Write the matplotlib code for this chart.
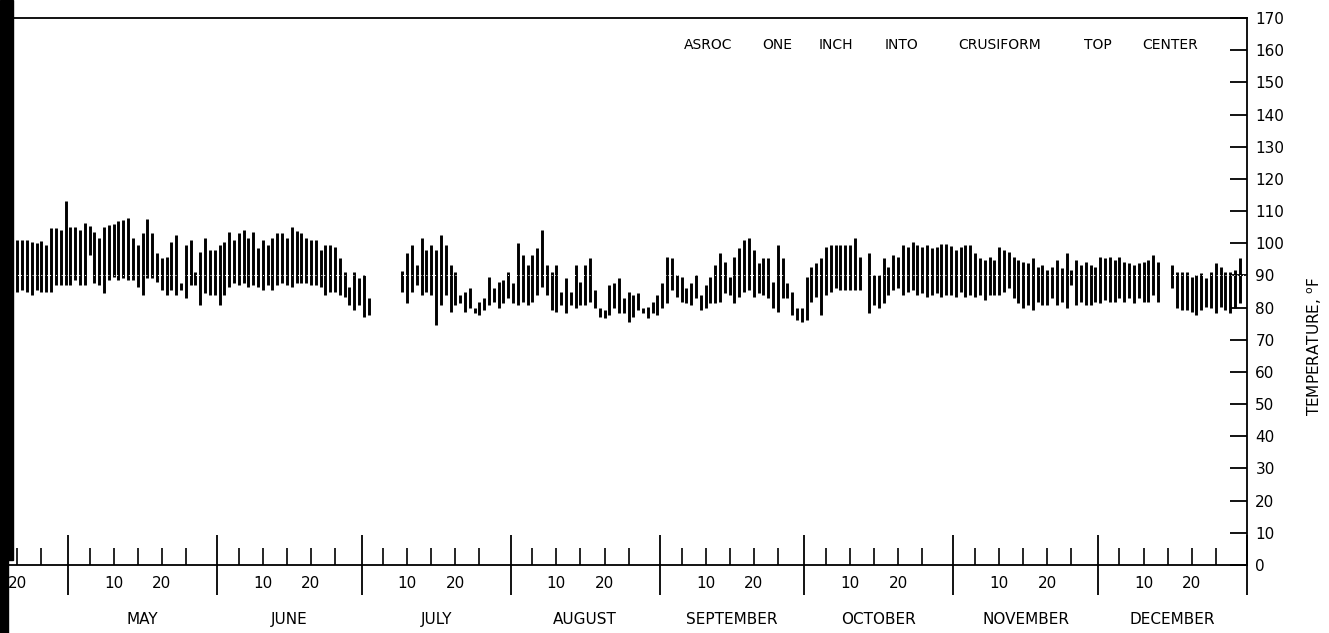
import numpy as np
import matplotlib.pyplot as plt
from matplotlib.patches import Rectangle

# daily max / min temperature (deg F), day 0 = May 1
seg1_start = -11   # April 20
seg1_hi = [101.0, 101.0, 101.0, 100.5, 100.0, 100.8, 99.5, 104.6, 104.6, 104.1,
           113.1, 105.2, 105.2, 104.1, 106.2, 105.5, 103.6, 101.5, 105.0, 105.7,
           106.0, 106.9, 107.2, 107.7, 101.5, 99.5, 103.1, 107.5, 103.1, 96.9,
           95.3, 95.8, 100.5, 102.6, 87.5, 99.5, 101.0, 91.2, 97.4, 101.7,
           97.9, 97.9, 99.5, 100.5, 103.6, 101.0, 103.1, 104.1, 101.5, 103.6,
           98.4, 101.0, 99.5, 101.5, 103.1, 103.1, 101.5, 105.0, 103.8, 103.1,
           101.5, 101.0, 101.0, 97.9, 99.5, 99.5, 98.9, 95.3, 91.2, 86.5,
           91.2, 89.1, 90.1, 82.9]
seg1_lo = [85.0, 85.5, 85.0, 83.9, 85.5, 85.0, 85.0, 85.0, 87.0, 87.0,
           87.0, 87.0, 88.6, 87.0, 87.0, 96.4, 87.5, 87.0, 84.4, 88.6,
           89.6, 88.6, 89.1, 88.6, 88.6, 86.5, 83.9, 89.1, 89.1, 88.1,
           85.5, 83.9, 85.5, 83.9, 85.5, 82.9, 87.0, 87.0, 80.8, 84.4,
           83.9, 83.9, 80.8, 83.9, 86.5, 87.5, 87.0, 87.5, 86.5, 87.0,
           86.5, 85.5, 87.0, 85.5, 87.0, 87.5, 87.0, 86.5, 87.5, 87.5,
           87.5, 87.0, 87.0, 86.5, 83.9, 85.0, 85.0, 83.9, 83.4, 80.8,
           79.3, 80.8, 77.2, 77.7]

seg2_start = 69    # July 10
seg2_hi = [91.4, 96.9, 99.5, 93.2, 101.5, 97.9, 99.5, 97.9, 102.6, 99.5,
           93.2, 91.2, 83.9, 85.0, 86.0, 79.8, 81.8, 82.9, 89.6, 86.0,
           88.1, 88.6, 91.2, 87.5, 100.0, 96.4, 93.2, 96.4, 98.4, 104.1,
           93.2, 91.2, 93.2, 85.0, 89.1, 85.0, 93.2, 88.1, 93.2, 95.3,
           85.5, 79.8, 79.3, 87.0, 87.5, 89.1, 82.9,
           85.0, 83.9, 84.4, 79.8, 80.3, 81.8, 83.9, 87.5, 95.8, 95.3,
           90.1, 89.6, 86.0, 87.5, 90.1, 83.9, 87.0, 89.6, 93.2, 96.9,
           94.3, 89.6, 95.8, 98.4, 101.0, 101.7, 97.9, 93.8, 95.3, 95.3,
           88.1, 99.5, 95.3, 87.5, 85.0, 79.8, 79.8, 89.6, 92.7, 93.8,
           95.3, 98.9, 99.5, 99.5, 99.5, 99.5, 99.5, 101.5, 95.8]
seg2_lo = [85.0, 81.3, 85.0, 87.0, 83.9, 85.0, 83.9, 74.6, 80.8, 83.9,
           78.7, 80.8, 81.3, 78.7, 79.8, 78.2, 77.7, 79.3, 80.8, 81.8,
           79.8, 81.3, 82.9, 81.3, 80.8, 81.8, 80.8, 81.8, 83.9, 86.5,
           83.9, 79.3, 78.7, 80.8, 78.2, 80.8, 79.8, 80.8, 80.8, 81.8,
           79.8, 77.2, 76.7, 77.7, 79.8, 78.2, 78.2,
           75.6, 77.2, 79.3, 78.2, 76.7, 78.2, 77.7, 79.8, 81.3, 85.5,
           83.4, 81.8, 81.3, 80.8, 82.9, 79.3, 79.8, 81.3, 81.3, 81.8,
           84.4, 83.9, 81.3, 83.4, 85.0, 85.5, 83.4, 84.4, 83.9, 82.9,
           79.8, 78.7, 82.9, 82.9, 77.7, 76.2, 75.6, 76.2, 81.8, 83.4,
           77.7, 83.9, 85.0, 86.0, 85.5, 85.5, 85.5, 85.5, 85.5]

seg3_start = 166   # October 14
seg3_hi = [96.9, 90.1, 90.1, 95.3, 92.7, 96.4, 95.8, 99.5, 98.9, 100.5,
           99.5, 98.9, 99.5, 98.4, 98.9,
           99.7, 99.7, 99.0, 97.9, 98.9, 99.5, 99.5, 96.9, 95.3, 94.8,
           95.8, 94.8, 98.9, 97.9, 97.4, 95.8, 94.8, 94.3, 93.8, 95.3,
           92.7, 93.2, 91.7, 92.7, 94.8, 92.2, 96.9, 91.7, 94.8, 93.2,
           94.3, 93.2, 92.7, 95.8, 95.3, 95.8, 94.8, 95.8, 94.3, 93.8,
           93.2, 93.8, 94.3, 94.8, 96.4, 94.3]
seg3_lo = [78.2, 80.8, 79.8, 81.3, 83.9, 85.5, 86.0, 83.9, 85.0, 85.5,
           83.9, 84.4, 83.4, 83.9, 84.4,
           83.4, 83.9, 83.9, 83.4, 85.0, 83.4, 83.9, 83.4, 83.9, 82.4,
           83.9, 83.9, 83.9, 85.0, 86.0, 82.9, 81.3, 79.8, 80.8, 79.3,
           81.8, 80.8, 80.8, 82.9, 80.8, 81.8, 79.8, 87.0, 80.8, 81.8,
           80.8, 80.8, 81.8, 81.3, 82.4, 81.8, 81.8, 82.9, 81.8, 82.9,
           81.3, 82.9, 81.8, 81.8, 83.9, 81.8]

seg4_start = 229   # December 16
seg4_hi = [93.2, 91.2, 91.2, 91.2, 89.6, 90.1, 90.6, 89.1, 91.2, 93.8,
           92.7, 91.2, 91.2, 91.7, 95.3]
seg4_lo = [86.0, 79.8, 79.3, 79.3, 78.7, 77.7, 79.3, 80.3, 79.8, 78.2,
           80.3, 79.3, 78.2, 79.8, 81.3]

months = ['APRIL', 'MAY', 'JUNE', 'JULY', 'AUGUST', 'SEPTEMBER',
          'OCTOBER', 'NOVEMBER', 'DECEMBER']
month_days = [30, 31, 30, 31, 31, 30, 31, 30, 31]
tick_days = [5, 10, 15, 20, 25]
label_days = [10, 20]
yticks = list(range(0, 171, 10))

title_words = ['ASROC', 'ONE', 'INCH', 'INTO', 'CRUSIFORM', 'TOP', 'CENTER']

plt.rcParams['font.family'] = ['DejaVu Sans']

W, H = 1329, 633
fig = plt.figure(figsize=(W / 100, H / 100), dpi=100)
ax = fig.add_axes([0.0, 68 / H, 1247 / W, (615 - 68) / H])

segments = [(seg1_start, seg1_hi, seg1_lo), (seg2_start, seg2_hi, seg2_lo),
            (seg3_start, seg3_hi, seg3_lo), (seg4_start, seg4_hi, seg4_lo)]
for start, hi, lo in segments:
    x = start + np.arange(len(hi)) + 0.5
    ax.vlines(x, lo, hi, color='black', lw=2.1)

# faint grid line that shows through the bars in the scan
ax.axhline(90, color='white', lw=0.7, ls=(0, (1, 2)))

x0, x1 = -14.12, 245
starts = np.concatenate([[-30], -30 + np.cumsum(month_days)])

major = [s for s in starts if s >= x0]
ax.set_xticks(major)
ax.set_xticklabels([])
minor = [s + d - 0.5 for s in starts[:-1] for d in tick_days
         if s + d - 0.5 > x0]
ax.set_xticks(minor, minor=True)
ax.tick_params(axis='x', which='major', direction='inout', length=43,
               width=1.3, bottom=True, top=False)
ax.tick_params(axis='x', which='minor', direction='in', length=12,
               width=1.2, bottom=True, top=False)
ax.set_xlim(x0, x1)
ax.set_ylim(0, 170)

trans = ax.get_xaxis_transform()
for s, name, nd in zip(starts[:-1], months, month_days):
    for d in label_days:
        if s + d - 0.5 > x0 - 2:
            ax.text(s + d - 0.5, -0.033, str(d), transform=trans,
                    ha='center', va='center', fontsize=11, clip_on=False)
    if s + nd / 2 > x0:
        ax.text(s + nd / 2, -0.10, name, transform=trans, ha='center',
                va='center', fontsize=11, clip_on=False)

ax.yaxis.tick_right()
ax.set_yticks(yticks)
ax.tick_params(axis='y', which='major', direction='in', length=12, width=1.3,
               labelsize=11, pad=6, left=False, right=True)
ax.yaxis.set_label_position('right')
ax.set_ylabel(r'TEMPERATURE, $^{\mathrm{o}}$F', fontsize=11)
ax.yaxis.set_label_coords(1305 / 1247, 0.40)

for side in ['top', 'right', 'bottom']:
    ax.spines[side].set_linewidth(1.3)
ax.spines['left'].set_visible(False)

# title words spread like the lettering on the original
word_x = [708, 777, 836, 902, 1000, 1098, 1170]
for w, px in zip(title_words, word_x):
    ax.text(px / 1247, (565 - 45) / 547, w, transform=ax.transAxes,
            ha='center', va='center', fontsize=10)

# dark scanner edge on the left
fig.patches.append(Rectangle((0, 73 / H), 13 / W, 1 - 73 / H,
                             transform=fig.transFigure, color='black'))
fig.patches.append(Rectangle((0, 0), 8 / W, 73 / H,
                             transform=fig.transFigure, color='black'))

fig.savefig('out.png', dpi=100)
